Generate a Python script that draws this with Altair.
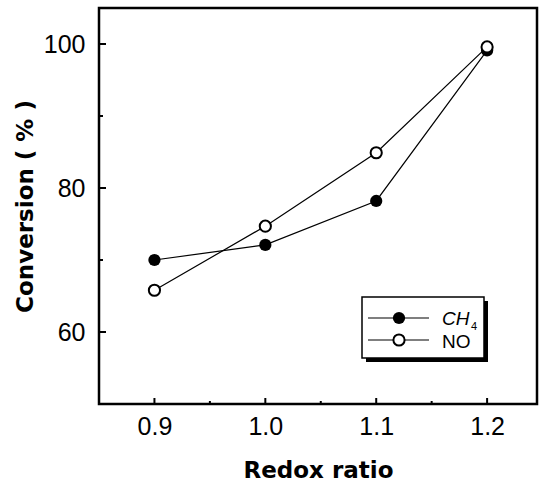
import altair as alt
import pandas as pd

redox = [0.9, 1.0, 1.1, 1.2]
ch4 = [70.0, 72.1, 78.2, 99.1]
no = [65.8, 74.7, 84.9, 99.6]

x_major = [0.9, 1.0, 1.1, 1.2]
x_minor = [0.95, 1.05, 1.15]
y_major = [60, 80, 100]
y_minor = [70, 90]

X_DOMAIN = [0.85, 1.245]
Y_DOMAIN = [50, 105]
W, H = 438, 396

df_ch4 = pd.DataFrame({"x": redox, "y": ch4})
df_no = pd.DataFrame({"x": redox, "y": no})

xs = alt.Scale(domain=X_DOMAIN, nice=False, zero=False)
ys = alt.Scale(domain=Y_DOMAIN, nice=False, zero=False)

xaxis = alt.Axis(values=x_major, format=".1f", ticks=False, domain=False, grid=False,
                 labelFont="Liberation Sans", labelFontSize=25, labelColor="black",
                 labelPadding=10, title="Redox ratio", titleFont="DejaVu Sans",
                 titleFontSize=23, titleFontWeight="bold", titleColor="black", titlePadding=20)
yaxis = alt.Axis(values=y_major, format="d", ticks=False, domain=False, grid=False,
                 labelFont="Liberation Sans", labelFontSize=25, labelColor="black",
                 labelPadding=14, title="Conversion ( % )", titleFont="DejaVu Sans",
                 titleFontSize=23, titleFontWeight="bold", titleColor="black", titlePadding=6)

base_ch4 = alt.Chart(df_ch4)
base_no = alt.Chart(df_no)

line_ch4 = base_ch4.mark_line(color="black", strokeWidth=1.2).encode(
    x=alt.X("x:Q", scale=xs, axis=xaxis), y=alt.Y("y:Q", scale=ys, axis=yaxis))
line_no = base_no.mark_line(color="black", strokeWidth=1.2).encode(
    x=alt.X("x:Q", scale=xs), y=alt.Y("y:Q", scale=ys))
pts_ch4 = base_ch4.mark_point(shape="circle", filled=True, color="black", size=150, opacity=1).encode(
    x=alt.X("x:Q", scale=xs), y=alt.Y("y:Q", scale=ys))
pts_no = base_no.mark_point(shape="circle", filled=True, fill="white", stroke="black",
                            strokeWidth=2, size=125, opacity=1).encode(
    x=alt.X("x:Q", scale=xs), y=alt.Y("y:Q", scale=ys))

# inward ticks
xt_major = alt.Chart(pd.DataFrame({"v": x_major})).mark_rule(color="black", strokeWidth=2).encode(
    x=alt.X("v:Q", scale=xs), y=alt.value(H), y2=alt.value(H - 6))
xt_minor = alt.Chart(pd.DataFrame({"v": x_minor})).mark_rule(color="black", strokeWidth=2).encode(
    x=alt.X("v:Q", scale=xs), y=alt.value(H), y2=alt.value(H - 3))
yt_major = alt.Chart(pd.DataFrame({"v": y_major})).mark_rule(color="black", strokeWidth=2).encode(
    y=alt.Y("v:Q", scale=ys), x=alt.value(0), x2=alt.value(7))
yt_minor = alt.Chart(pd.DataFrame({"v": y_minor})).mark_rule(color="black", strokeWidth=2).encode(
    y=alt.Y("v:Q", scale=ys), x=alt.value(0), x2=alt.value(4))

# legend (pixel placed)
one = pd.DataFrame({"a": [0]})
leg_shadow = alt.Chart(one).mark_rect(color="black").encode(
    x=alt.value(267), x2=alt.value(389), y=alt.value(293), y2=alt.value(354))
leg_box = alt.Chart(one).mark_rect(fill="white", stroke="black", strokeWidth=1.5).encode(
    x=alt.value(263), x2=alt.value(385), y=alt.value(289), y2=alt.value(350))
leg_l1 = alt.Chart(one).mark_rule(color="black", strokeWidth=1.2).encode(
    x=alt.value(269), x2=alt.value(330), y=alt.value(310))
leg_l2 = alt.Chart(one).mark_rule(color="black", strokeWidth=1.2).encode(
    x=alt.value(269), x2=alt.value(330), y=alt.value(332))
leg_p1 = alt.Chart(one).mark_point(shape="circle", filled=True, color="black", size=150, opacity=1).encode(
    x=alt.value(300), y=alt.value(310))
leg_p2 = alt.Chart(one).mark_point(shape="circle", filled=True, fill="white", stroke="black",
                                   strokeWidth=2, size=125, opacity=1).encode(
    x=alt.value(300), y=alt.value(332))
leg_t1 = alt.Chart(one).mark_text(text="CH", font="Liberation Sans", fontSize=19, align="left",
                                  baseline="middle", color="black", fontStyle="italic").encode(
    x=alt.value(343), y=alt.value(311))
leg_t1s = alt.Chart(one).mark_text(text="4", font="Liberation Sans", fontSize=11, align="left",
                                   baseline="middle", color="black").encode(
    x=alt.value(372), y=alt.value(319))
leg_t2 = alt.Chart(one).mark_text(text="NO", font="Liberation Sans", fontSize=19, align="left",
                                  baseline="middle", color="black").encode(
    x=alt.value(343), y=alt.value(334))

chart = alt.layer(
    line_ch4, line_no, pts_ch4, pts_no,
    xt_major, xt_minor, yt_major, yt_minor,
    leg_shadow, leg_box, leg_l1, leg_l2, leg_p1, leg_p2, leg_t1, leg_t1s, leg_t2,
).properties(
    width=W, height=H,
    autosize=alt.AutoSizeParams(type="none"),
    padding={"left": 99, "top": 8, "right": 6, "bottom": 86},
    background="white",
).configure_view(stroke="black", strokeWidth=2.5)

chart.save("out.html", embed_options={"renderer": "svg", "actions": False})
